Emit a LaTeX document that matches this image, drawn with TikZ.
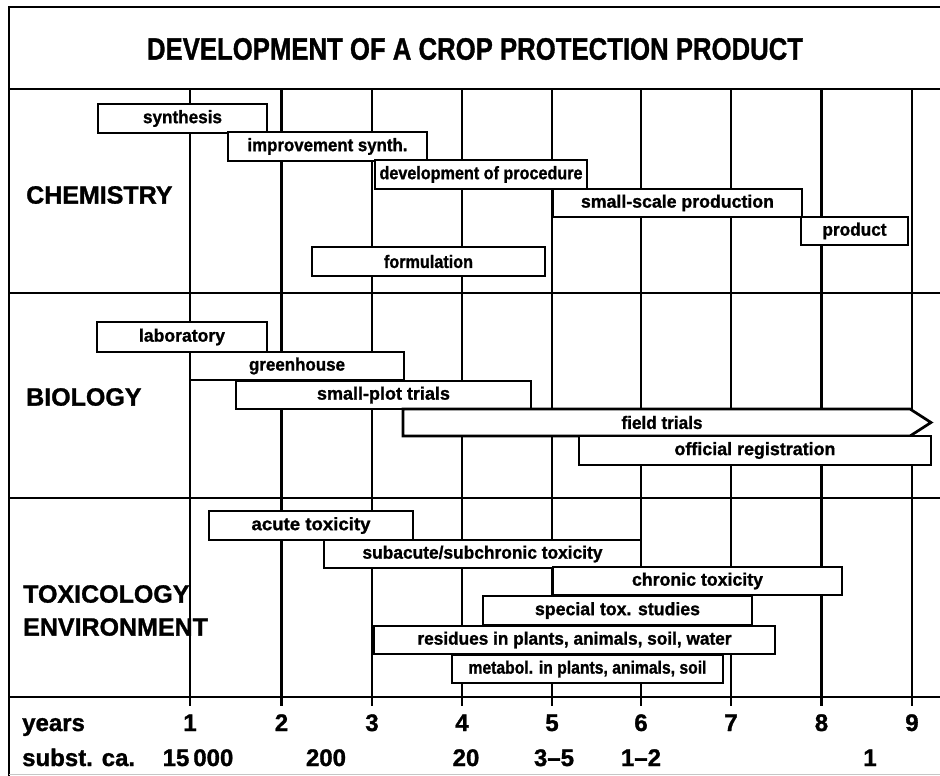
\documentclass[tikz,border=0pt]{standalone}
\usepackage{fontspec}
\setmainfont{Liberation Sans}[BoldFeatures={FakeBold=1.2}]
\usepackage{graphicx}

% one bar of the time chart: name, left, top, right, bottom, label width, label
\newcommand\phasebar[7]{%
  \node[barbox, minimum width={(#4)-(#2)}, minimum height={(#5)-(#3)}]
    (#1) at ({((#2)+(#4))/2},{((#3)+(#5))/2}) {\resizebox{#6pt}{\height}{#7}};%
}

\begin{document}
\begin{tikzpicture}[x=1pt, y=-1pt,
  rule/.style={line width=2.7pt, line cap=rect},
  barbox/.style={draw, line width=2.7pt, fill=white, inner sep=0pt,
    font=\fontsize{18}{18}\selectfont\bfseries},
  barlabel/.style={inner sep=0pt, font=\fontsize{18}{18}\selectfont\bfseries},
  section/.style={inner sep=0pt, anchor=west, font=\fontsize{25}{25}\selectfont\bfseries},
  axislabel/.style={inner sep=0pt, font=\fontsize{24}{24}\selectfont\bfseries},
  heading/.style={inner sep=0pt, font=\fontsize{31}{31}\selectfont\bfseries}
]
\useasboundingbox (0,0) rectangle (940,776);

% frame and section rules
\draw[rule] (9,776) -- (9,7) -- (940,7);
\foreach \y in {89,293,498,697}
  \draw[rule] (9,\y) -- (940,\y);
\draw[gray!45, line width=1pt] (9,774) -- (940,774);

% year lines with ticks below the axis
\foreach \x in {190,281.5,372,462,552,641,731,821.5,912}
  \draw[rule] (\x,89) -- (\x,705);

% title
\node[heading] (title) at (475,49)
  {\resizebox{656pt}{\height}{DEVELOPMENT OF A CROP PROTECTION PRODUCT}};

% chemistry
\phasebar{synth}{98}{104}{267}{133}{79}{synthesis}
\phasebar{improve}{228}{132}{427}{161}{160}{improvement synth.}
\phasebar{proc}{375}{160}{587}{189}{203}{development of procedure}
\phasebar{smallscale}{553}{189}{802}{217}{193}{small-scale production}
\phasebar{product}{801}{217}{908}{245}{64}{product}
\phasebar{formul}{312}{247}{545}{276}{89}{formulation}

% biology
\phasebar{lab}{97}{322}{267}{352}{86}{laboratory}
\phasebar{green}{190}{352}{404}{380}{96}{greenhouse}
\phasebar{plot}{236}{381}{531}{409}{133}{small-plot trials}
\draw[line width=2.7pt, fill=white]
  (403,409) -- (910,409) -- (931,422.5) -- (910,436) -- (403,436) -- cycle;
\node[barlabel] (field) at (662,422.5) {\resizebox{81pt}{\height}{field trials}};
\phasebar{registr}{579}{436}{931}{465}{161}{official registration}

% toxicology and environment
\phasebar{acute}{209}{511}{413}{540}{119}{acute toxicity}
\phasebar{subacute}{324}{540}{641}{568}{240}{subacute/subchronic toxicity}
\phasebar{chronic}{553}{567}{842}{595}{131}{chronic toxicity}
\phasebar{special}{483}{596}{752}{625}{165}{special tox. studies}
\phasebar{resid}{374}{626}{775}{654}{314}{residues in plants, animals, soil, water}
\phasebar{metab}{452}{655}{723}{683}{238}{metabol. in plants, animals, soil}

% section names
\node[section] (chem) at (26,195) {CHEMISTRY};
\node[section] (bio) at (26,397) {BIOLOGY};
\node[section] (tox) at (23,594) {TOXICOLOGY};
\node[section] (env) at (23,627) {ENVIRONMENT};

% time axis
\node[axislabel, anchor=base west] (yearslbl) at (22,731) {years};
\node[axislabel, anchor=base west] (substlbl) at (22,766) {subst. ca.};
\foreach \n/\x in {1/190,2/281.5,3/372,4/462,5/552,6/641,7/731,8/821.5,9/912}
  \node[axislabel, anchor=base] (yr\n) at (\x,731) {\n};
\node[axislabel, anchor=base] (s1) at (198,766) {15\hspace{4pt}000};
\node[axislabel, anchor=base] (s2) at (326,766) {200};
\node[axislabel, anchor=base] (s3) at (466,766) {20};
\node[axislabel, anchor=base] (s4) at (554,766) {3--5};
\node[axislabel, anchor=base] (s5) at (641,766) {1--2};
\node[axislabel, anchor=base] (s6) at (870,766) {1};
\end{tikzpicture}
\end{document}
